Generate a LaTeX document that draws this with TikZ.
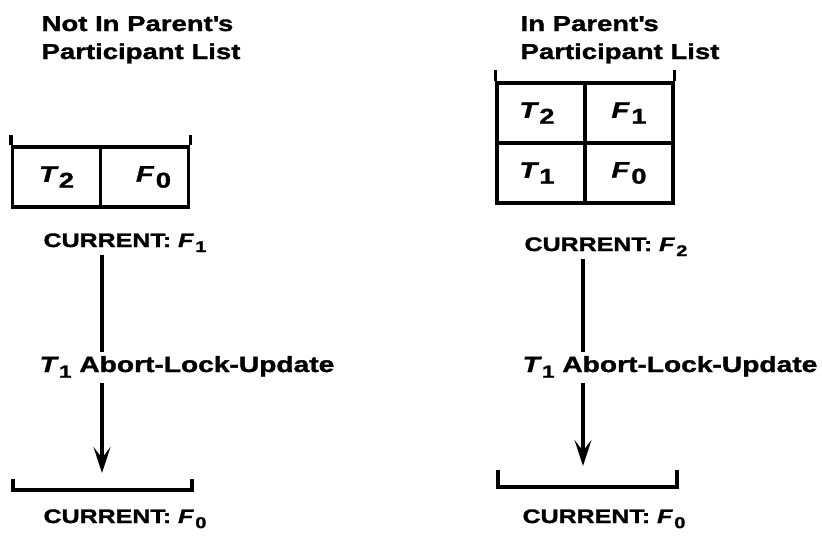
\documentclass[tikz,border=0pt]{standalone}
\usepackage{fontspec}
\usepackage{graphicx}
\setmainfont{Liberation Sans}[FakeStretch=1.28,FakeBold=1.4]
\usetikzlibrary{arrows.meta}
% italic letter with a lowered index
\newcommand\isub[3][0.8]{{\itshape #2}\kern0.1em\raisebox{-0.26em}{\scalebox{#1}{#3}}}

\begin{document}
\begin{tikzpicture}[x=1pt,y=-1pt,line width=3.2pt,
  txt/.style={inner sep=0pt,anchor=base west},
  titletxt/.style={txt,font=\bfseries\fontsize{21.5}{24}\selectfont},
  curtxt/.style={txt,font=\bfseries\fontsize{19.5}{22}\selectfont},
  optxt/.style={txt,font=\bfseries\fontsize{22}{24}\selectfont},
  cell/.style={draw,minimum width=88pt,minimum height=60pt,inner sep=0pt,
    font=\bfseries\fontsize{22.5}{24}\selectfont},
  flow/.style={line width=3.2pt},
  flowarrow/.style={flow,-{Stealth[length=26pt,width=17pt,inset=11pt]}}]
\useasboundingbox (0,0) rectangle (822,539);

% ---------- left column ----------
\node[titletxt] (tl1) at (40,31) {Not In Parent\textquotesingle s};
\node[titletxt] (tl2) at (40,59) {Participant List};

\node[cell] (l1) at (56.5,177) {\isub[0.95]{T}{2}};
\node[cell] (l2) at (144.5,177) {\hspace*{18pt}\isub[0.95]{F}{0}};
\draw (l1.north west) -- ++(0,-10);
\draw (l2.north east) -- ++(0,-10);

\node[curtxt] (cl) at (42,247) {CURRENT: \isub{F}{1}};
\node[optxt] (ol) at (38,372) {\isub{T}{1} Abort-Lock-Update};

\coordinate (axl) at (102,0);
\coordinate (tipl) at (102,473);
\draw[flow,shorten <=1pt,shorten >=2pt] (cl.south -| axl) -- (ol.north -| axl);
\draw[flowarrow,shorten <=4pt] (ol.south -| axl) -- (tipl);

\draw (13,479) -- (13,490) -- (192,490) -- (192,479);
\node[curtxt] (cl0) at (42,523) {CURRENT: \isub{F}{0}};

% ---------- right column ----------
\node[titletxt] (tr1) at (519,31) {In Parent\textquotesingle s};
\node[titletxt] (tr2) at (519,59) {Participant List};

\node[cell] (r11) at (541,113) {\hspace*{-8pt}\isub[0.95]{T}{2}};
\node[cell] (r12) at (629,113) {\isub[0.95]{F}{1}};
\node[cell] (r21) at (541,173) {\hspace*{-8pt}\isub[0.95]{T}{1}};
\node[cell] (r22) at (629,173) {\isub[0.95]{F}{0}};
\draw (r11.north west) -- ++(0,-11);
\draw (r12.north east) -- ++(0,-11);

\node[curtxt] (cr) at (523,251) {CURRENT: \isub{F}{2}};
\node[optxt] (or) at (521,372) {\isub{T}{1} Abort-Lock-Update};

\coordinate (axr) at (583,0);
\coordinate (tipr) at (583,466);
\draw[flow,shorten <=1pt,shorten >=2pt] (cr.south -| axr) -- (or.north -| axr);
\draw[flowarrow,shorten <=4pt] (or.south -| axr) -- (tipr);

\draw (498,470) -- (498,487) -- (677,487) -- (677,470);
\node[curtxt] (cr0) at (521,523) {CURRENT: \isub{F}{0}};
\end{tikzpicture}
\end{document}
